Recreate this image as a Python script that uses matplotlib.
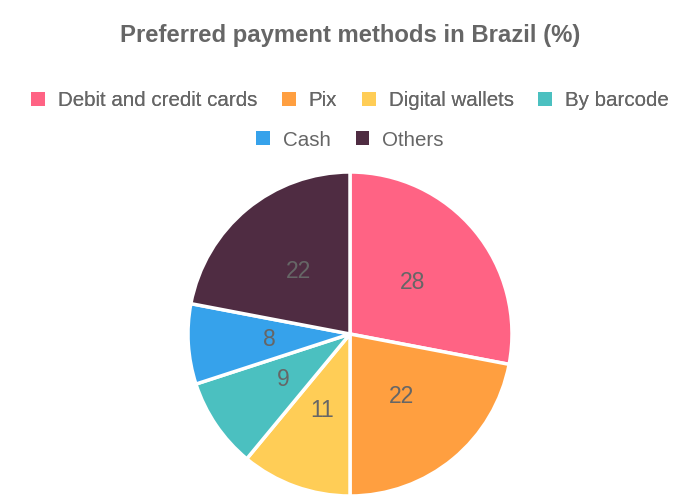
import matplotlib
matplotlib.use("Agg")
import matplotlib.pyplot as plt
from matplotlib.patches import Patch

plt.rcParams['font.family'] = ['Liberation Sans', 'DejaVu Sans']

# data
methods = ["Debit and credit cards", "Pix", "Digital wallets", "By barcode", "Cash", "Others"]
shares = [28, 22, 11, 9, 8, 22]
colors = ["#FF6384", "#FF9F40", "#FFCD56", "#4BC0C0", "#36A2EB", "#4F2C42"]

text_grey = "#666666"

fig = plt.figure(figsize=(7, 5), dpi=100)
fig.patch.set_facecolor("white")

fig.text(0.5, 0.929, "Preferred payment methods in Brazil (%)", ha="center", va="center",
         fontsize=17.2, fontweight="bold", color=text_grey)

# pie area: centre (350, 334) px, radius 162 px
ax = fig.add_axes([(350 - 162) / 700, (500 - 496) / 500, 324 / 700, 324 / 500])
vals = iter(shares)
wedges, texts, autotexts = ax.pie(
    shares, colors=colors, startangle=90, counterclock=False, radius=1,
    wedgeprops=dict(edgecolor="white", linewidth=2.5),
    autopct=lambda p: f"{next(vals)}", pctdistance=0.5,
    textprops=dict(color=text_grey, fontsize=16.5))
ax.set_xlim(-1, 1)
ax.set_ylim(-1, 1)
ax.set_aspect("equal")
ax.axis("off")

# legend in two centred rows
handles = [Patch(facecolor=c, edgecolor="none") for c in colors]
leg_kw = dict(loc="center", frameon=False, fontsize=14.8, labelcolor=text_grey,
              handlelength=0.68, handleheight=0.68, handletextpad=0.62, columnspacing=1.2)
row1 = fig.legend(handles[:4], methods[:4], bbox_to_anchor=(0.5, 0.798), ncol=4, **leg_kw)
fig.add_artist(row1)
fig.legend(handles[4:], methods[4:], bbox_to_anchor=(0.5, 0.720), ncol=2, **leg_kw)

fig.savefig("out.png", dpi=100)
